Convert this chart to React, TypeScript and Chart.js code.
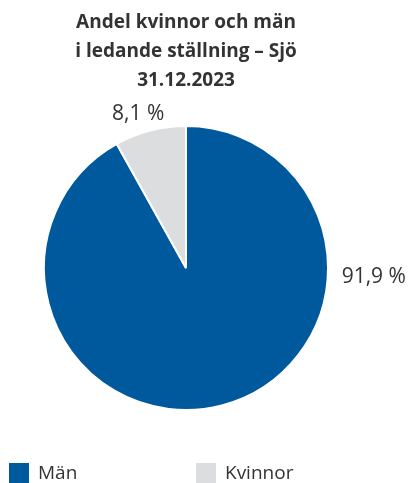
import React, { useEffect, useRef } from "react";
import { Chart, registerables } from "chart.js";

Chart.register(...registerables);

const titleLines = ["Andel kvinnor och män", "i ledande ställning – Sjö", "31.12.2023"];
const categories = ["Män", "Kvinnor"];
const values = [91.9, 8.1];
const valueLabels = ["91,9 %", "8,1 %"];
const colors = ["#00599c", "#dcdddf"];

const FONT = "'Open Sans', 'Noto Sans', sans-serif";
const TEXT = "#333333";

// label placement: angle (deg, from +x axis, clockwise), distance from centre
const labelPlacement = [
  { angle: 2.7, dist: 188 },
  { angle: -107.3, dist: 161 },
];

const overlayPlugin = {
  id: "overlay",
  afterDraw(chart: any) {
    const ctx = chart.ctx as CanvasRenderingContext2D;
    const meta = chart.getDatasetMeta(0);
    const arc = meta.data[0];
    const cx = arc.x;
    const cy = arc.y;
    ctx.save();
    // title
    ctx.fillStyle = TEXT;
    ctx.font = `bold 19px ${FONT}`;
    ctx.textAlign = "center";
    ctx.textBaseline = "alphabetic";
    titleLines.forEach((t, i) => ctx.fillText(t, cx, 28 + i * 29));
    // value labels
    ctx.font = `21px ${FONT}`;
    ctx.textBaseline = "middle";
    valueLabels.forEach((t, i) => {
      const p = labelPlacement[i];
      const a = (p.angle * Math.PI) / 180;
      ctx.fillText(t, cx + Math.cos(a) * p.dist, cy + Math.sin(a) * p.dist);
    });
    // legend
    ctx.font = `19px ${FONT}`;
    const legendX = [9, 196];
    categories.forEach((c, i) => {
      ctx.fillStyle = colors[i];
      ctx.fillRect(legendX[i], 463, 20, 20);
      ctx.fillStyle = TEXT;
      ctx.textAlign = "left";
      ctx.textBaseline = "alphabetic";
      ctx.fillText(c, legendX[i] + 29, 479);
    });
    ctx.restore();
  },
};

export default function App() {
  const ref = useRef<HTMLCanvasElement>(null);
  useEffect(() => {
    if (!ref.current) return;
    const chart = new Chart(ref.current, {
      type: "pie",
      data: {
        labels: categories,
        datasets: [
          {
            data: values,
            backgroundColor: colors,
            borderColor: "#ffffff",
            borderWidth: 2,
          },
        ],
      },
      options: {
        responsive: false,
        animation: false,
        layout: { padding: { top: 125, bottom: 72, left: 0, right: 37 } },
        plugins: {
          legend: { display: false },
          tooltip: { enabled: false },
          title: { display: false },
        },
      },
      plugins: [overlayPlugin],
    });
    return () => chart.destroy();
  }, []);
  return (
    <div style={{ position: "fixed", left: 0, top: 0, width: 409, height: 483, background: "#fff" }}>
      <canvas ref={ref} width={409} height={483} style={{ width: 409, height: 483, display: "block" }} />
    </div>
  );
}
